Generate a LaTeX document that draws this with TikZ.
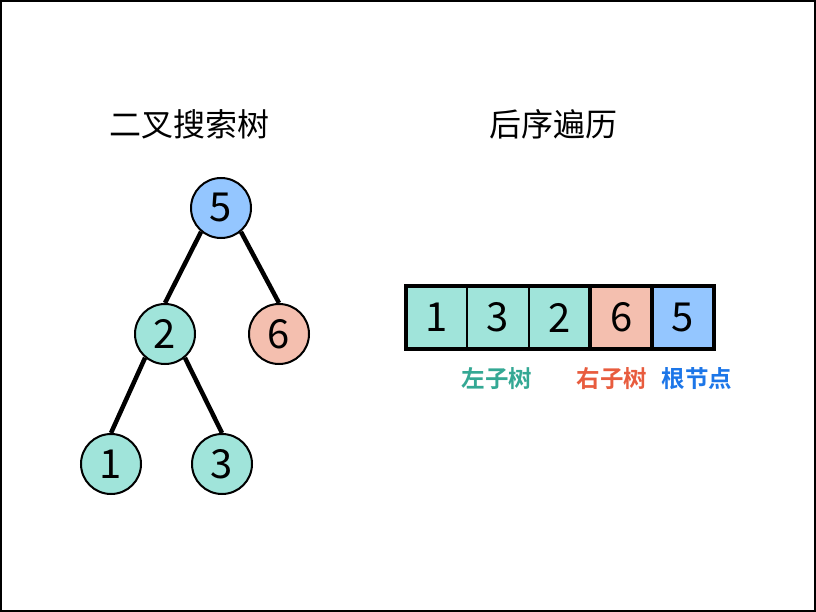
\documentclass[tikz,border=0pt]{standalone}
\usepackage{fontspec}
\setmainfont{Noto Sans CJK SC}[BoldFont={Noto Sans CJK SC Bold}]
\definecolor{cblue}{RGB}{148,198,255}
\definecolor{cteal}{RGB}{160,228,218}
\definecolor{csalmon}{RGB}{244,191,175}
\definecolor{lteal}{RGB}{52,168,148}
\definecolor{lred}{RGB}{232,92,62}
\definecolor{lblue}{RGB}{28,118,232}
\tikzset{
  tnode/.style={circle,draw=black,line width=2pt,minimum size=60pt,inner sep=0pt,font=\fontsize{40}{40}\selectfont},
  tedge/.style={line width=4.5pt},
  cell/.style={draw=black,line width=2pt,minimum width=61.6pt,minimum height=63pt,inner sep=0pt,outer sep=0pt,anchor=west,font=\fontsize{40}{40}\selectfont},
  grp/.style={draw=black,line width=4pt},
  title/.style={font=\fontsize{32}{32}\selectfont},
  lab/.style={font=\bfseries\fontsize{23.5}{23.5}\selectfont},
}
\begin{document}
\begin{tikzpicture}[x=1pt,y=-1pt]
\useasboundingbox (0,0) rectangle (816,612);
\draw[line width=2pt] (1,1) rectangle (815,611);
\node[title] (t1) at (189,124) {二叉搜索树};
\node[title] (t2) at (553,124) {后序遍历};
% tree
\node[tnode,fill=cblue] (n5) at (221,208) {5};
\node[tnode,fill=cteal] (n2) at (165,334) {2};
\node[tnode,fill=csalmon] (n6) at (279,334) {6};
\node[tnode,fill=cteal] (n1) at (111,464) {1};
\node[tnode,fill=cteal] (n3) at (222,464) {3};
\draw[tedge] (n5.-130) -- (n2.north);
\draw[tedge] (n5.-50) -- (n6.north);
\draw[tedge] (n2.-130) -- (n1.north);
\draw[tedge] (n2.-50) -- (n3.north);
% array
\node[cell,fill=cteal] (a1) at (405.6,317.5) {1};
\node[cell,fill=cteal] (a2) at (a1.east) {3};
\node[cell,fill=cteal] (a3) at (a2.east) {2};
\node[cell,fill=csalmon] (a4) at (a3.east) {6};
\node[cell,fill=cblue] (a5) at (a4.east) {5};
\draw[grp] (a1.north west) rectangle (a3.south east);
\draw[grp] (a4.north west) rectangle (a4.south east);
\draw[grp] (a5.north west) rectangle (a5.south east);
\node[lab,text=lteal] (l1) at (497,379) {左子树};
\node[lab,text=lred] (l2) at (612,379) {右子树};
\node[lab,text=lblue] (l3) at (697,379) {根节点};
\end{tikzpicture}
\end{document}
